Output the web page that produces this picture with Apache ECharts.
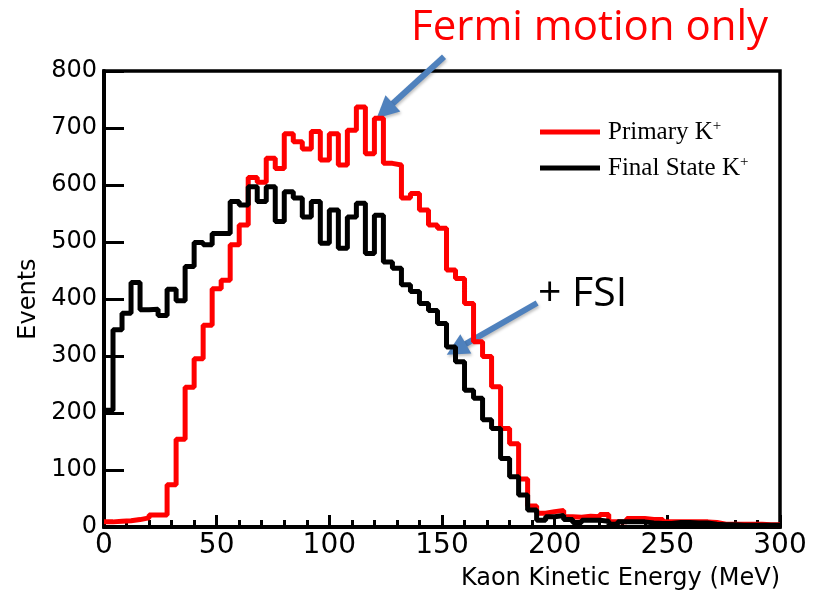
<!DOCTYPE html>
<html>
<head>
<meta charset="utf-8">
<script src="https://cdn.jsdelivr.net/npm/echarts@6/dist/echarts.min.js"></script>
<style>
html,body{margin:0;padding:0;background:#fff;}
#chart{width:815px;height:597px;}
</style>
</head>
<body>
<div id="chart"></div>
<script>
// ---- data ----
const binWidth = 4; // MeV per histogram bin, bins start at 0
const seriesNames = ["Primary K", "Final State K"];
const primaryK = [9,10,11,13,16,21,21,74,154,245,295,354,418,433,495,530,613,605,647,629,
  690,676,663,694,644,690,635,696,737,655,717,638,635,577,585,556,530,524,451,436,
  392,325,299,246,173,146,84,37,24,27,29,18,17,19,18,22,9,9,15,15,
  13,13,9,9,9,9,9,8,5,5,5,5,5,4,4];
const finalK = [205,346,375,429,381,382,371,417,397,457,499,495,515,515,571,565,597,571,597,536,
  588,577,544,571,498,556,489,544,568,480,547,465,454,425,413,392,380,357,316,290,
  240,226,188,173,120,88,56,30,12,18,20,13,8,12,12,10,5,9,9,9,
  7,6,6,8,8,7,7,5,4,4,3,3,3,3,3];
const xTicks = [0,50,100,150,200,250,300];
const yTicks = [0,100,200,300,400,500,600,700,800];
// annotation arrows in data coordinates: [tail, tip]
const arrowFermi = [[150.9, 825], [121.0, 717]];
const arrowFSI = [[192.2, 393], [152.1, 302]];

function histData(vals){
  const d = vals.map((v,i)=>[i*binWidth, v]);
  d.push([vals.length*binWidth, vals[vals.length-1]]);
  return d;
}

const chart = echarts.init(document.getElementById('chart'), null, {renderer:'canvas'});
const option = {
  animation:false,
  backgroundColor:'#fff',
  grid:{left:104,right:35,top:71,bottom:70,show:true,borderColor:'#000',borderWidth:3.5,backgroundColor:'transparent'},
  legend:{
    orient:'vertical', left:535, top:114, itemWidth:60, itemHeight:5, itemGap:10,
    icon:'rect',
    data:seriesNames,
    formatter:(n)=>'{gap|}'+n+'{sup|+}',
    textStyle:{fontFamily:'Liberation Serif',fontSize:25,color:'#000',lineHeight:26,
      rich:{gap:{width:3},sup:{fontSize:15,fontFamily:'Liberation Serif',verticalAlign:'top',lineHeight:15}}}
  },
  xAxis:{
    type:'value',min:xTicks[0],max:xTicks[xTicks.length-1],interval:xTicks[1]-xTicks[0],
    axisLine:{lineStyle:{color:'#000',width:4}},
    axisTick:{inside:true,length:12,lineStyle:{color:'#000',width:3}},
    minorTick:{show:true,splitNumber:5,length:7,lineStyle:{color:'#000',width:3}},
    splitLine:{show:false},
    axisLabel:{fontFamily:'DejaVu Sans',fontSize:28,color:'#000',margin:5},
    name:'Kaon Kinetic Energy (MeV)',nameLocation:'end',nameGap:0,
    nameTextStyle:{fontFamily:'DejaVu Sans',fontSize:24,color:'#000',align:'right',verticalAlign:'top',padding:[40,0,0,0]}
  },
  yAxis:{
    type:'value',min:yTicks[0],max:yTicks[yTicks.length-1],interval:yTicks[1]-yTicks[0],
    axisLine:{show:true,lineStyle:{color:'#000',width:4}},
    axisTick:{show:true,inside:true,length:20,lineStyle:{color:'#000',width:3}},
    splitLine:{show:false},
    axisLabel:{fontFamily:'DejaVu Sans',fontSize:24,color:'#000',margin:7},
    name:'Events',nameLocation:'middle',nameGap:58,nameRotate:90,
    nameTextStyle:{fontFamily:'DejaVu Sans',fontSize:24,color:'#000'}
  },
  series:[
    {name:seriesNames[0],type:'line',step:'end',data:histData(primaryK),showSymbol:false,symbol:'none',
     lineStyle:{color:'#ff0000',width:5},itemStyle:{color:'#ff0000'},z:2},
    {name:seriesNames[1],type:'line',step:'end',data:histData(finalK),showSymbol:false,symbol:'none',
     lineStyle:{color:'#000',width:5},itemStyle:{color:'#000'},z:3}
  ]
};
chart.setOption(option);

function arrowGraphic(a){
  const t = chart.convertToPixel({gridIndex:0}, a[0]);
  const h = chart.convertToPixel({gridIndex:0}, a[1]);
  const dx=h[0]-t[0], dy=h[1]-t[1], L=Math.hypot(dx,dy), ux=dx/L, uy=dy/L;
  const hl=22, hw=11;
  const bx=h[0]-ux*hl, by=h[1]-uy*hl;
  return {type:'group',z:100,children:[
    {type:'line',shape:{x1:t[0],y1:t[1],x2:bx+ux*2,y2:by+uy*2},style:{stroke:'#4f81bd',lineWidth:6,shadowBlur:3,shadowColor:'rgba(0,0,0,0.25)',shadowOffsetX:1,shadowOffsetY:2}},
    {type:'polygon',shape:{points:[[h[0],h[1]],[bx-uy*hw,by+ux*hw],[bx+uy*hw,by-ux*hw]]},style:{fill:'#4f81bd',shadowBlur:3,shadowColor:'rgba(0,0,0,0.25)',shadowOffsetX:1,shadowOffsetY:2}}
  ]};
}
chart.setOption({graphic:[
  arrowGraphic(arrowFermi),
  arrowGraphic(arrowFSI),
  {type:'text',z:100,style:{text:'Fermi motion only',x:411,y:28,fill:'#ff0000',fontFamily:'Open Sans',fontSize:42,textVerticalAlign:'middle',verticalAlign:'middle'}},
  {type:'text',z:100,style:{text:'+ FSI',x:538,y:294,fill:'#000',fontFamily:'Open Sans',fontSize:41,textVerticalAlign:'middle',verticalAlign:'middle'}}
]});
</script>
</body>
</html>
